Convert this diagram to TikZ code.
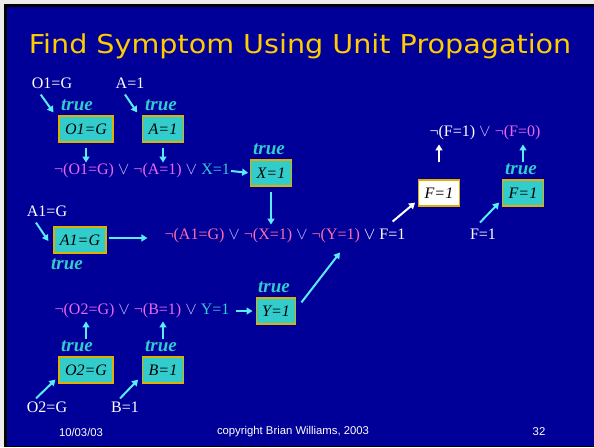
\documentclass[tikz,border=0pt]{standalone}
\usepackage{fontspec}
\setmainfont{Liberation Serif}
\newfontfamily\titlefont[FakeStretch=1.1]{DejaVu Sans}
\newfontfamily\footfont{Liberation Sans}
\usetikzlibrary{arrows.meta}
\definecolor{slideblue}{RGB}{0,0,153}
\definecolor{titleyel}{RGB}{255,204,0}
\definecolor{boxteal}{RGB}{51,204,204}
\definecolor{boxedge}{RGB}{225,175,0}
\definecolor{truecyan}{RGB}{51,204,204}
\definecolor{arrowcyan}{RGB}{90,235,255}
\definecolor{negviolet}{RGB}{235,105,235}
\definecolor{negpink}{RGB}{255,110,170}
\definecolor{veecol}{RGB}{205,185,255}
\tikzset{
  lit/.style={inner sep=1pt, text=white, font=\fontsize{16}{18}\selectfont},
  truebox/.style={draw=boxedge, line width=1.2pt, fill=boxteal, inner xsep=6pt,
    minimum height=26pt, text=black, font=\fontsize{16}{18}\selectfont\itshape},
  whitebox/.style={truebox, fill=white},
  truelab/.style={inner sep=0pt, text=truecyan, font=\fontsize{19}{20}\selectfont\bfseries\itshape},
  prop/.style={->, line width=2pt, draw=arrowcyan},
  propw/.style={->, line width=2pt, draw=white},
  foot/.style={inner sep=0pt, text=white, font=\footfont\fontsize{11.3}{13}\selectfont},
}
\begin{document}
\begin{tikzpicture}[x=1pt,y=-1pt,>={Triangle[length=6pt,width=7pt]}]
    % slide
    \fill[gray!15] (0,0) rectangle (594,447);
    \fill[black] (4,4) rectangle (594,447);
    \fill[slideblue] (7,7) rectangle (594,446);
    \useasboundingbox (0,0) rectangle (594,447);
    \node[text=titleyel, font=\titlefont\fontsize{26}{28}\selectfont] (title) at (300,46) {Find Symptom Using Unit Propagation};

    % X=1
    \node[lit] (o1lab) at (52,83) {O1=G};
    \node[lit] (alab) at (130,83) {A=1};
    \node[truelab] (to1) at (77,105) {true};
    \node[truelab] (ta) at (161,105) {true};
    \node[truebox] (o1g) at (86,129) {O1=G};
    \node[truebox] (a1) at (163,129) {A=1};
    \node[lit] (c1) at (142,171) {\color{negviolet}¬(O1=G) \color{veecol}$\vee$ \color{negviolet}¬(A=1) \color{veecol}$\vee$ \color{truecyan}X=1};
    \node[truelab] (tx) at (269,149) {true};
    \node[truebox] (x1) at (271,173) {X=1};
    \draw[prop] ([xshift=10pt,yshift=-5pt]o1lab.south west) -- ([xshift=-5pt,yshift=3pt]o1g.north west);
    \draw[prop] ([xshift=-5pt,yshift=-5pt]alab.south) -- ([xshift=-5pt,yshift=3pt]a1.north west);
    \draw[prop, shorten <=5pt] (o1g.south) -- (o1g.south |- c1.north);
    \draw[prop, shorten <=5pt] (a1.south) -- (a1.south |- c1.north);
    \draw[prop, shorten >=2pt] (c1.east) -- (x1.west);

    % A1=G clause
    \node[lit] (a1glab) at (47,211) {A1=G};
    \node[truebox] (a1g) at (80,240) {A1=G};
    \node[truelab] (ta1g) at (67,264) {true};
    \node[lit] (c2) at (285,236) {\color{negpink}¬(A1=G) \color{veecol}$\vee$ \color{negpink}¬(X=1) \color{veecol}$\vee$ \color{negpink}¬(Y=1) \color{white}$\vee$ F=1};
    \draw[prop] ([xshift=-11pt,yshift=-5pt]a1glab.south) -- ([xshift=-5pt,yshift=-1pt]a1g.west);
    \draw[prop, shorten <=2pt, shorten >=16pt] ([yshift=2pt]a1g.east) -- ([yshift=2pt]a1g.east -| c2.west);
    \draw[prop, shorten <=5pt, shorten >=3pt] (x1.south) -- (x1.south |- c2.north);

    % Y=1
    \node[lit] (c3) at (142,311) {\color{negviolet}¬(O2=G) \color{veecol}$\vee$ \color{negviolet}¬(B=1) \color{veecol}$\vee$ \color{truecyan}Y=1};
    \node[truelab] (ty) at (274,287) {true};
    \node[truebox] (y1) at (276,311) {Y=1};
    \node[truelab] (to2) at (77,346) {true};
    \node[truelab] (tb) at (161,346) {true};
    \node[truebox] (o2g) at (86,370) {O2=G};
    \node[truebox] (b1) at (163,370) {B=1};
    \node[lit] (o2lab) at (47,407) {O2=G};
    \node[lit] (blab) at (125,407) {B=1};
    \draw[prop] ([xshift=-11pt,yshift=2pt]o2lab.north) -- ([xshift=-3pt,yshift=4pt]o2g.south west);
    \draw[prop] ([xshift=-5pt,yshift=2pt]blab.north) -- ([xshift=-4pt,yshift=4pt]b1.south west);
    \draw[prop, shorten <=1pt, shorten >=2pt] (o2g.north |- to2.north) -- (o2g.north |- c3.south);
    \draw[prop, shorten <=1pt, shorten >=2pt] (b1.north |- tb.north) -- (b1.north |- c3.south);
    \draw[prop, shorten <=5pt, shorten >=3pt] (c3.east) -- (y1.west);
    \draw[prop] ([xshift=5pt,yshift=-5pt]y1.north east) -- ([xshift=55pt,yshift=-8pt]c2.south);

    % F=1
    \node[lit] (c4) at (485,133) {¬(F=1) \color{veecol}$\vee$ \color{negviolet}¬(F=0)};
    \node[whitebox] (fw) at (439,193) {F=1};
    \node[truelab] (tf) at (521,169) {true};
    \node[truebox] (ft) at (523,193) {F=1};
    \node[lit] (flab) at (483,234) {F=1};
    \draw[propw] ([xshift=-14pt,yshift=6pt]c2.north east) -- ([xshift=-3pt,yshift=4pt]fw.south west);
    \draw[prop] ([xshift=-3pt,yshift=5pt]flab.north) -- ([xshift=-3pt,yshift=4pt]ft.south west);
    \draw[propw, shorten <=17pt, shorten >=3pt] (fw.north) -- (fw.north |- c4.south);
    \draw[prop, shorten <=1pt, shorten >=3pt] (ft.north |- tf.north) -- (ft.north |- c4.south);

    % footer
    \node[foot] (date) at (81,432) {10/03/03};
    \node[foot] (copy) at (293,432) {copyright Brian Williams, 2003};
    \node[foot] (page) at (539,432) {32};
\end{tikzpicture}
\end{document}
